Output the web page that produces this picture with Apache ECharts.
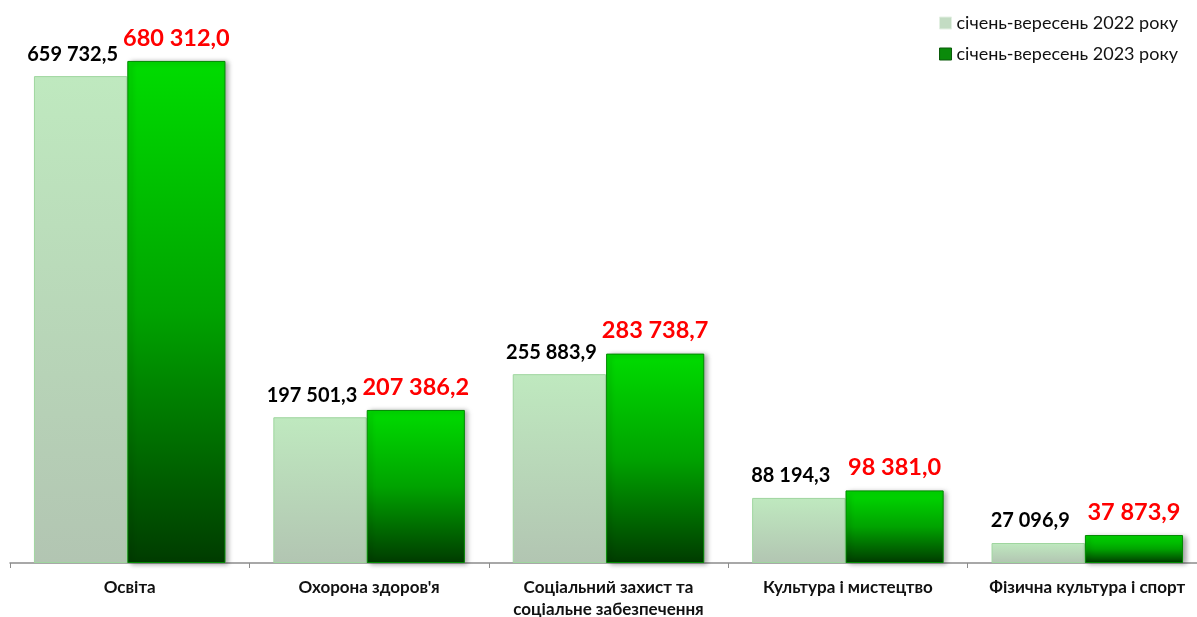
<!DOCTYPE html>
<html>
<head>
<meta charset="utf-8">
<script src="https://cdn.jsdelivr.net/npm/echarts@6/dist/echarts.min.js"></script>
<style>
  html, body { margin: 0; padding: 0; background: #fff; }
  #main { width: 1197px; height: 617px; }
</style>
</head>
<body>
<div id="main"></div>
<script>
var categories = ['Освіта', "Охорона здоров'я", 'Соціальний захист та\nсоціальне забезпечення', 'Культура і мистецтво', 'Фізична культура і спорт'];
var values2022 = [659732.5, 197501.3, 255883.9, 88194.3, 27096.9];
var values2023 = [680312.0, 207386.2, 283738.7, 98381.0, 37873.9];
var seriesNames = ['січень-вересень 2022 року', 'січень-вересень 2023 року'];

var FONT = 'Lato';

function fmt(v) {
  var parts = v.toFixed(1).split('.');
  return parts[0].replace(/\B(?=(\d{3})+(?!\d))/g, ' ') + ',' + parts[1];
}

var lightFill = new echarts.graphic.LinearGradient(0, 0, 0, 1, [
  { offset: 0, color: '#bfe9bf' },
  { offset: 1, color: '#b2c5b2' }
]);
var darkFill = new echarts.graphic.LinearGradient(0, 0, 0, 1, [
  { offset: 0, color: '#00dc00' },
  { offset: 0.5, color: '#00a300' },
  { offset: 1, color: '#003c00' }
]);

var chart = echarts.init(document.getElementById('main'));
chart.setOption({
  animation: false,
  textStyle: { fontFamily: FONT },
  legend: {
    orient: 'vertical',
    right: 14,
    top: 9,
    itemWidth: 12,
    itemHeight: 12,
    itemGap: 13,
    textStyle: { fontSize: 18, color: '#111', fontFamily: FONT },
    data: [
      { name: seriesNames[0], icon: 'rect', itemStyle: { color: '#c3dcc3', borderColor: '#e4f0e4', borderWidth: 1 } },
      { name: seriesNames[1], icon: 'rect', itemStyle: { color: '#0a8a0a', borderColor: '#0a5a0a', borderWidth: 1 } }
    ]
  },
  grid: { left: 10, width: 1197, top: 46.4, bottom: 54, outerBoundsMode: 'none', containLabel: false },
  xAxis: {
    type: 'category',
    data: categories,
    axisLine: { lineStyle: { color: '#8c8c8c', width: 1.5 } },
    axisTick: { show: true, length: 5, lineStyle: { color: '#8c8c8c' } },
    axisLabel: {
      interval: 0,
      margin: 14,
      fontSize: 17,
      fontWeight: 'bold',
      color: '#111',
      lineHeight: 22,
      fontFamily: FONT
    }
  },
  yAxis: {
    type: 'value',
    min: 0,
    max: 700000,
    show: false,
    splitLine: { show: false }
  },
  series: [
    {
      name: seriesNames[0],
      type: 'bar',
      data: values2022,
      barWidth: '39%',
      barGap: '0%',
      itemStyle: {
        color: lightFill,
        borderColor: '#9fd69f',
        borderWidth: 1
      },
      label: {
        show: true,
        position: 'top',
        distance: 12,
        offset: [-8, 0],
        formatter: function (p) { return fmt(p.value); },
        fontSize: 20,
        fontWeight: 'bold',
        color: '#000',
        fontFamily: FONT
      }
    },
    {
      name: seriesNames[1],
      type: 'bar',
      data: values2023,
      barWidth: '41%',
      itemStyle: {
        color: darkFill,
        borderColor: '#008800',
        borderWidth: 1,
        shadowColor: 'rgba(0,0,0,0.35)',
        shadowBlur: 5,
        shadowOffsetX: 3,
        shadowOffsetY: 1
      },
      label: {
        show: true,
        position: 'top',
        distance: 11,
        formatter: function (p) { return fmt(p.value); },
        fontSize: 23.5,
        fontWeight: 'bold',
        color: '#ff0000',
        fontFamily: FONT
      }
    }
  ]
});
</script>
</body>
</html>
